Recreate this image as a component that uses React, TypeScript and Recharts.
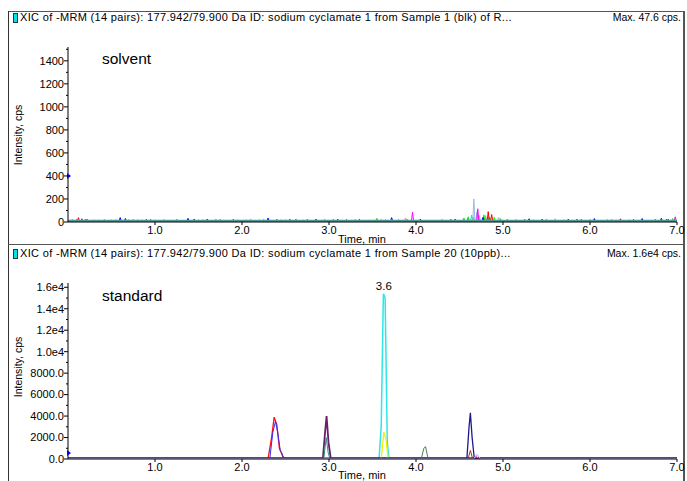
import React from 'react';
import { LineChart, Line, XAxis, YAxis, ReferenceDot } from 'recharts';

// ---------- data ----------
const xTicks = [1, 2, 3, 4, 5, 6, 7];
const solventYTicks = [0, 100, 200, 300, 400, 500, 600, 700, 800, 900, 1000, 1100, 1200, 1300, 1400, 1500];
const standardYTicks = [0, 1000, 2000, 3000, 4000, 5000, 6000, 7000, 8000, 9000, 10000, 11000, 12000, 13000, 14000, 15000, 16000];

// solvent (blank) trace spikes: [time(min), intensity(cps)]
const solventRed: [number, number][] = [[0.12, 38], [0.16, 28], [0.42, 20], [0.95, 22], [1.9, 24], [2.25, 20], [2.55, 25], [2.75, 22], [3.2, 22], [3.6, 20], [4.83, 90], [4.87, 65], [5.25, 22], [5.85, 25], [6.35, 28], [6.75, 22], [6.9, 25]];
const solventBlue: [number, number][] = [[0.22, 22], [0.6, 38], [0.66, 30], [0.9, 22], [1.38, 32], [1.45, 25], [1.75, 20], [2.3, 35], [2.62, 22], [2.85, 25], [3.35, 22], [3.72, 38], [4.05, 25], [4.4, 22], [4.77, 40], [5.3, 28], [5.45, 25], [5.9, 22], [6.05, 30], [6.6, 30], [6.82, 32]];
const solventGreen: [number, number][] = [[0.1, 25], [0.55, 20], [0.8, 20], [1.25, 25], [1.55, 20], [2.1, 22], [2.45, 20], [3.05, 25], [3.3, 22], [3.55, 32], [4.3, 22], [4.55, 35], [4.6, 45], [4.66, 40], [4.72, 55], [4.78, 62], [4.84, 45], [4.9, 40], [4.97, 30], [5.05, 25], [5.7, 20], [6.45, 20], [6.95, 30]];
const solventMagenta: [number, number][] = [[1.0, 18], [3.96, 85], [4.71, 115], [6.98, 45]];
const solventLightBlue: [number, number][] = [[0.85, 20], [2.2, 20], [4.665, 200], [4.7, 90], [4.73, 55], [4.95, 40], [5.6, 28], [6.3, 20]];
const solventCyan: [number, number][] = [[0.05, 25], [0.7, 22], [1.7, 25], [2.5, 20], [3.65, 22], [4.64, 60], [4.8, 35], [5.35, 20], [6.0, 22]];
const solventGray: [number, number][] = [[0.5, 20], [1.95, 20], [2.95, 25], [3.8, 22], [4.6, 35], [4.85, 40], [5.5, 25], [6.2, 22]];
const solventSalmon: [number, number][] = [[0.3, 20], [1.1, 22], [2.05, 20], [3.88, 35], [4.8, 55], [5.15, 22], [6.25, 25]];
const solventYellow: [number, number][] = [[0.35, 20], [1.5, 22], [2.7, 20], [3.45, 18]];
const solventNavy: [number, number][] = [[0.2, 22], [0.75, 20], [1.6, 25], [2.4, 22], [3.1, 25], [3.9, 20], [4.45, 25], [5.75, 25], [6.5, 22], [6.88, 24]];
const solventBase: [number, number][] = [[0, 9], [7, 9]];

// standard (10 ppb) traces: [time(min), intensity(cps)]
const stdCyan: [number, number][] = [[0, 0], [3.575, 0], [3.6, 3000], [3.625, 15400], [3.645, 15000], [3.67, 1500], [3.69, 0], [7, 0]];
const stdYellow: [number, number][] = [[0, 30], [3.6, 30], [3.63, 2500], [3.655, 1800], [3.68, 30], [7, 30]];
const stdRed: [number, number][] = [[0, 60], [2.3, 60], [2.34, 2000], [2.37, 3900], [2.4, 3200], [2.43, 1000], [2.47, 200], [2.5, 60], [7, 60]];
const stdBlue: [number, number][] = [[0, 60], [2.32, 60], [2.355, 2500], [2.385, 3500], [2.41, 2500], [2.44, 800], [2.455, 600], [2.48, 60], [7, 60]];
const stdPurple: [number, number][] = [[0, 80], [2.93, 80], [2.955, 2500], [2.972, 4000], [2.995, 1500], [3.02, 80], [7, 80]];
const stdTeal: [number, number][] = [[0, 40], [2.94, 40], [2.968, 2000], [2.99, 600], [3.01, 40], [7, 40]];
const stdDarkGreen: [number, number][] = [[0, 0], [4.06, 0], [4.09, 1000], [4.11, 1150], [4.14, 0], [7, 0]];
const stdNavy: [number, number][] = [[0, 50], [4.585, 50], [4.61, 3000], [4.625, 4300], [4.645, 2000], [4.67, 50], [7, 50]];
const stdBrown: [number, number][] = [[0, 50], [4.6, 50], [4.625, 800], [4.65, 50], [7, 50]];
const stdMagenta: [number, number][] = [[0, 30], [4.66, 30], [4.69, 300], [4.72, 30], [7, 30]];
const stdLightBlue: [number, number][] = [[0, 30], [4.67, 30], [4.7, 450], [4.74, 30], [7, 30]];

// ---------- helpers ----------
const toPts = (arr: [number, number][]) => arr.map(([t, v]) => ({ t, v }));
const spikes = (base: number, list: [number, number][]) => {
  const pts: { t: number; v: number }[] = [{ t: 0, v: base }];
  [...list].sort((a, b) => a[0] - b[0]).forEach(([t, h]) => {
    pts.push({ t: t - 0.012, v: base }, { t, v: h }, { t: t + 0.012, v: base });
  });
  pts.push({ t: 7, v: base });
  return pts;
};

const FONT = '"Liberation Sans", Arial, sans-serif';

const makeYTick = (major: number, fmt: (v: number) => string) => (props: any) => {
  const { x, y, payload } = props;
  const v = payload.value;
  const isMajor = Math.abs(v % major) < 1e-6;
  return (
    <g>
      <line x1={x} x2={x - (isMajor ? 4 : 2)} y1={y} y2={y} stroke="#000" strokeWidth={1} />
      {isMajor && (
        <text x={x - 4} y={y} dy="0.35em" textAnchor="end" fontSize={11} fontFamily={FONT} fill="#000">
          {fmt(v)}
        </text>
      )}
    </g>
  );
};

const XTick = (props: any) => {
  const { x, y, payload } = props;
  return (
    <g>
      <line x1={x} x2={x} y1={y} y2={y + 3} stroke="#000" />
      <text x={x} y={y + 4} dy="0.71em" textAnchor="middle" fontSize={11} fontFamily={FONT} fill="#000">
        {payload.value.toFixed(1)}
      </text>
    </g>
  );
};

const markerShape = (p: any) => (
  <polygon points={`${p.cx - 1},${p.cy - 3} ${p.cx + 3},${p.cy} ${p.cx - 1},${p.cy + 3}`} fill="#0000ff" />
);

const Header = ({ top, text, max }: { top: number; text: string; max: string }) => (
  <>
    <div style={{ position: 'absolute', left: 13, top: top + 1, width: 3, height: 8, background: '#00e5e5', border: '1px solid #333' }} />
    <div style={{ position: 'absolute', left: 20, top: top - 1, fontSize: 11, letterSpacing: 0.33, fontFamily: FONT, whiteSpace: 'nowrap', color: '#000' }}>{text}</div>
    <div style={{ position: 'absolute', right: 687 - 681, top: top - 1, fontSize: 10.5, fontFamily: FONT, whiteSpace: 'nowrap', color: '#000' }}>{max}</div>
  </>
);

const YLabel = ({ cy }: { cy: number }) => (
  <div style={{ position: 'absolute', left: 18 - 50, top: cy - 7, width: 100, textAlign: 'center', transform: 'rotate(-90deg)', fontSize: 10.5, fontFamily: FONT, whiteSpace: 'nowrap' }}>
    Intensity, cps
  </div>
);

const XLabel = ({ top }: { top: number }) => (
  <div style={{ position: 'absolute', left: 312, width: 100, top, textAlign: 'center', fontSize: 11, fontFamily: FONT, whiteSpace: 'nowrap', lineHeight: '12px' }}>
    Time, min
  </div>
);

export default function App() {
  const topSeries: { data: { t: number; v: number }[]; color: string; w?: number }[] = [
    { data: spikes(9, solventYellow), color: '#e0e000' },
    { data: spikes(9, solventGray), color: '#a0a0a0' },
    { data: spikes(9, solventSalmon), color: '#ff7f7f' },
    { data: spikes(9, solventNavy), color: '#20208a' },
    { data: spikes(9, solventCyan), color: '#00e0e0' },
    { data: spikes(9, solventGreen), color: '#00ee00' },
    { data: spikes(9, solventBlue), color: '#0000ff' },
    { data: spikes(9, solventRed), color: '#ff0000' },
    { data: spikes(9, solventLightBlue), color: '#9ab8e6' },
    { data: spikes(9, solventMagenta), color: '#ff00ff' },
    { data: toPts(solventBase), color: '#4f9b9b', w: 2.2 },
  ];
  const bottomSeries: { data: { t: number; v: number }[]; color: string; w?: number }[] = [
    { data: toPts(stdCyan), color: '#2ee6e6', w: 1.5 },
    { data: toPts(stdPurple), color: '#6a1f6a', w: 1.8 },
    { data: toPts(stdTeal), color: '#2f8f7f' },
    { data: toPts(stdYellow), color: '#f0f000', w: 1.3 },
    { data: toPts(stdRed), color: '#ff1010', w: 1.3 },
    { data: toPts(stdBlue), color: '#3030ff' },
    { data: toPts(stdDarkGreen), color: '#4f7f4f' },
    { data: toPts(stdNavy), color: '#1a1a8c', w: 1.3 },
    { data: toPts(stdBrown), color: '#a03030' },
    { data: toPts(stdMagenta), color: '#ff40ff' },
    { data: toPts(stdLightBlue), color: '#a8c0f0' },
  ];

  return (
    <div style={{ position: 'absolute', left: 0, top: 0, width: 687, height: 481, background: '#fff', overflow: 'hidden', fontFamily: FONT }}>
      {/* frame */}
      <div style={{ position: 'absolute', left: 8, top: 11, width: 676, height: 1, background: '#555' }} />
      <div style={{ position: 'absolute', left: 8, top: 11, width: 1, height: 470, background: '#333' }} />
      <div style={{ position: 'absolute', left: 683, top: 11, width: 2, height: 470, background: '#555' }} />
      <div style={{ position: 'absolute', left: 8, top: 244, width: 676, height: 1, background: '#555' }} />

      <Header top={12} text="XIC of -MRM (14 pairs): 177.942/79.900 Da ID: sodium cyclamate 1 from Sample 1 (blk) of R..." max="Max. 47.6 cps." />
      <Header top={248} text="XIC of -MRM (14 pairs): 177.942/79.900 Da ID: sodium cyclamate 1 from Sample 20 (10ppb)..." max="Max. 1.6e4 cps." />

      <div style={{ position: 'absolute', left: 0, top: 0 }}>
        <LineChart width={687} height={245} margin={{ top: 47, right: 10, bottom: 0, left: 8 }}>
          <XAxis type="number" dataKey="t" domain={[0, 7]} ticks={xTicks} interval={0} allowDataOverflow height={23}
            tick={<XTick />} tickLine={false} tickSize={0} tickMargin={0} axisLine={{ stroke: '#000' }} />
          <YAxis type="number" domain={[0, 1520]} ticks={solventYTicks} interval={0} width={60} allowDataOverflow
            tick={makeYTick(200, (v) => String(v))} tickLine={false} tickSize={0} tickMargin={0} axisLine={{ stroke: '#000' }} />
          {topSeries.map((s, i) => (
            <Line key={i} data={s.data} dataKey="v" type="linear" stroke={s.color} strokeWidth={s.w ?? 1} dot={false} isAnimationActive={false} />
          ))}
          <ReferenceDot x={0} y={400} r={3} shape={markerShape} ifOverflow="visible" />
        </LineChart>
      </div>

      <div style={{ position: 'absolute', left: 0, top: 245 }}>
        <LineChart width={687} height={236} margin={{ top: 38, right: 10, bottom: 0, left: 8 }}>
          <XAxis type="number" dataKey="t" domain={[0, 7]} ticks={xTicks} interval={0} allowDataOverflow height={22}
            tick={<XTick />} tickLine={false} tickSize={0} tickMargin={0} axisLine={{ stroke: '#000' }} />
          <YAxis type="number" domain={[0, 16400]} ticks={standardYTicks} interval={0} width={60} allowDataOverflow
            tick={makeYTick(2000, (v) => (v >= 10000 ? (v / 10000).toFixed(1) + 'e4' : v.toFixed(1)))} tickLine={false} tickSize={0} tickMargin={0} axisLine={{ stroke: '#000' }} />
          {bottomSeries.map((s, i) => (
            <Line key={i} data={s.data} dataKey="v" type="linear" stroke={s.color} strokeWidth={s.w ?? 1} dot={false} isAnimationActive={false} />
          ))}
          <ReferenceDot x={0} y={550} r={3} shape={markerShape} ifOverflow="visible" />
          <ReferenceDot x={3.63} y={15400} r={0} ifOverflow="visible"
            shape={(p: any) => (
              <text x={p.cx} y={p.cy - 4} textAnchor="middle" fontSize={11.5} fontFamily={FONT} fill="#000">3.6</text>
            )} />
        </LineChart>
      </div>

      <div style={{ position: 'absolute', left: 102, top: 50, fontSize: 15.5, fontFamily: FONT }}>solvent</div>
      <div style={{ position: 'absolute', left: 102, top: 287, fontSize: 15.5, fontFamily: FONT }}>standard</div>

      <YLabel cy={136} />
      <YLabel cy={368} />
      <XLabel top={233} />
      <XLabel top={469} />
    </div>
  );
}
